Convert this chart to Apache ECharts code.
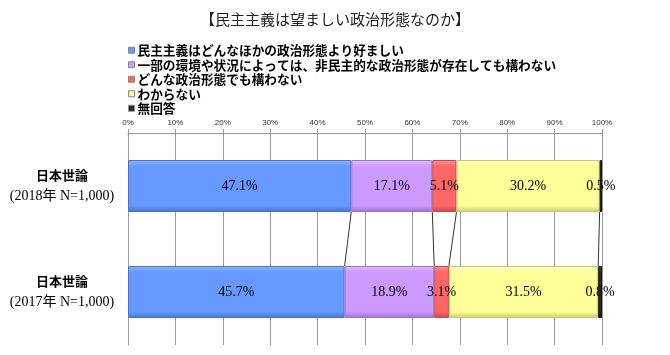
<!DOCTYPE html>
<html><head><meta charset="utf-8">
<script src="https://cdn.jsdelivr.net/npm/echarts@6/dist/echarts.min.js"></script>
<style>html,body{margin:0;padding:0;background:#fff}#c{width:670px;height:355px}</style>
</head><body><div id="c"></div>
<script>
var categories = ['日本世論\n(2018年 N=1,000)', '日本世論\n(2017年 N=1,000)'];
var seriesNames = ['民主主義はどんなほかの政治形態より好ましい', '一部の環境や状況によっては、非民主的な政治形態が存在しても構わない', 'どんな政治形態でも構わない', 'わからない', '無回答'];
var preferDemocracy = [47.1, 45.7];
var nonDemocracyOk = [17.1, 18.9];
var anyForm = [5.1, 3.1];
var dontKnow = [30.2, 31.5];
var noAnswer = [0.5, 0.8];
var xTicks = [0, 10, 20, 30, 40, 50, 60, 70, 80, 90, 100];

var allValues = [preferDemocracy, nonDemocracyOk, anyForm, dontKnow, noAnswer];
var colors = [
  ['#8fb5ff', '#6699ff', '#4a73c8'],
  ['#e3c4ff', '#cc99ff', '#9e72c8'],
  ['#ff9a9a', '#ff6666', '#c84848'],
  ['#ffffc8', '#ffff99', '#c8c870'],
  ['#555555', '#2a2a2a', '#111111']
];
function grad(c) {
  return new echarts.graphic.LinearGradient(0, 0, 0, 1, [
    {offset: 0, color: c[0]}, {offset: 0.12, color: c[1]},
    {offset: 0.88, color: c[1]}, {offset: 1, color: c[2]}
  ]);
}
var series = allValues.map(function (vals, i) {
  return {
    name: seriesNames[i], type: 'bar', stack: 'total', barWidth: '49%',
    data: vals,
    itemStyle: {color: grad(colors[i]), borderColor: colors[i][2], borderWidth: 1},
    label: {
      show: true, position: 'inside', color: '#000',
      fontFamily: 'Liberation Serif', fontSize: 14,
      formatter: function (p) { return p.value.toFixed(1) + '%'; }
    }
  };
});
// connector lines between cumulative boundaries
var connectors = [];
var cum18 = 0, cum17 = 0;
for (var k = 0; k < allValues.length - 1; k++) {
  cum18 += allValues[k][0]; cum17 += allValues[k][1];
  connectors.push([+cum18.toFixed(2), +cum17.toFixed(2)]);
}
series.push({
  type: 'custom', silent: true, z: 1,
  data: connectors,
  encode: {x: [0, 1]},
  renderItem: function (params, api) {
    var p1 = api.coord([api.value(0), 0]);
    var p2 = api.coord([api.value(1), 1]);
    var band = api.size([0, 1])[1];
    var half = band * 0.49 / 2;
    return {
      type: 'line',
      shape: {x1: p1[0], y1: p1[1] + half, x2: p2[0], y2: p2[1] - half},
      style: {stroke: '#333', lineWidth: 1}
    };
  }
});

var chart = echarts.init(document.getElementById('c'));
chart.setOption({
  animation: false,
  color: colors.map(function (c) { return c[1]; }),
  title: {
    text: '【民主主義は望ましい政治形態なのか】', left: 'center', top: 7,
    textStyle: {fontFamily: 'Noto Sans CJK JP', fontSize: 15, fontWeight: 'normal', color: '#222'}
  },
  legend: {
    orient: 'vertical', left: 123, top: 38, itemWidth: 6, itemHeight: 6, itemGap: 0,
    icon: 'rect',
    data: seriesNames.map(function (n, i) { return {name: n, itemStyle: {color: colors[i][1], borderColor: '#888', borderWidth: 1}}; }),
    textStyle: {fontFamily: 'Noto Sans CJK JP', fontSize: 12.7, fontWeight: 'bold', color: '#000', lineHeight: 14.5, padding: [0, 0, 0, -2]}
  },
  grid: {left: 128, right: 68, top: 133, bottom: 10},
  xAxis: {
    type: 'value', position: 'top', min: xTicks[0], max: xTicks[xTicks.length - 1], interval: 10,
    axisLine: {show: true, lineStyle: {color: '#999'}},
    axisTick: {show: true, length: 4, lineStyle: {color: '#999'}},
    splitLine: {show: true, lineStyle: {color: '#999'}},
    axisLabel: {formatter: '{value}%', fontSize: 8, fontFamily: 'Liberation Sans', color: '#333', margin: 6}
  },
  yAxis: {
    type: 'category', inverse: true, data: categories,
    axisLine: {show: true, lineStyle: {color: '#999'}},
    axisTick: {show: false},
    axisLabel: {
      align: 'center', margin: 66, color: '#000',
      formatter: function (v) { var s = v.split('\n'); return '{a|' + s[0] + '}\n{b|' + s[1] + '}'; },
      rich: {
        a: {fontFamily: 'Noto Sans CJK JP', fontWeight: 'bold', fontSize: 13, lineHeight: 21, color: '#000'},
        b: {fontFamily: 'Liberation Serif, Noto Sans CJK JP', fontSize: 14, lineHeight: 21, color: '#000'}
      }
    }
  },
  series: series
});
</script></body></html>
